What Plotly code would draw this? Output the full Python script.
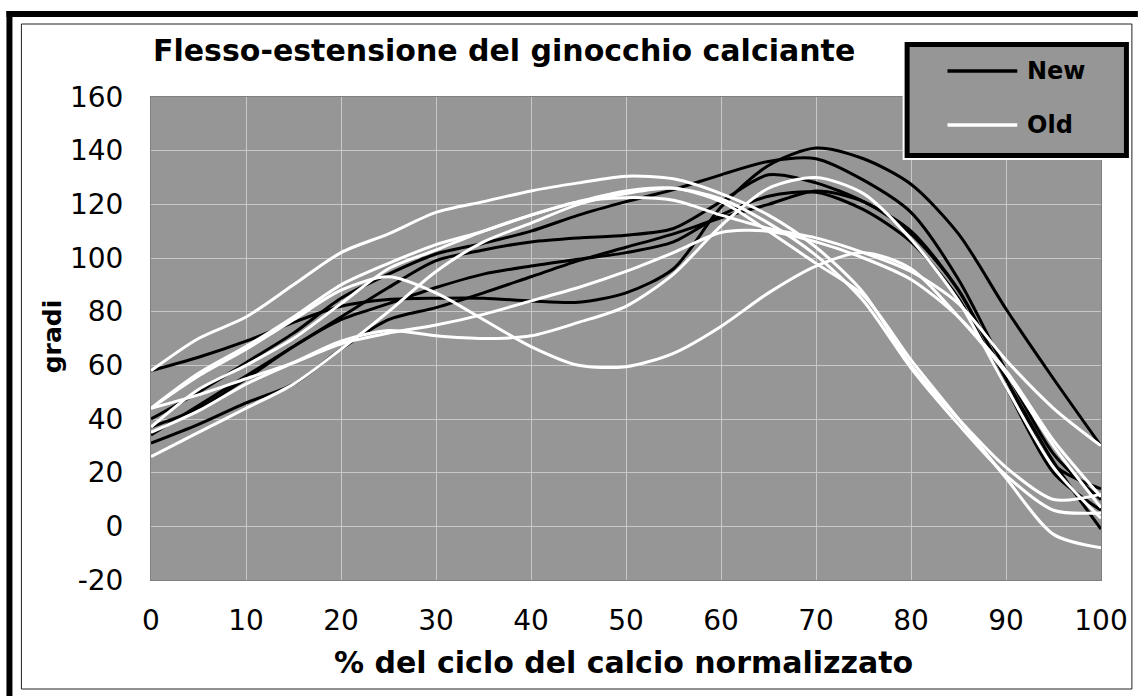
import plotly.graph_objects as go

# ---- data ----
x_pct = [0, 5, 10, 15, 20, 25, 30, 35, 40, 45, 50, 55, 60, 65, 70, 75, 80, 85, 90, 95, 100]

new_1 = [58, 63, 69, 76, 82, 84.5, 85, 85, 84, 83.5, 87, 96, 119, 134.5, 141, 137, 127.5, 109, 81, 55, 30]
new_2 = [40, 50, 61, 72, 85, 94, 101.5, 105.5, 110, 116, 121, 125.5, 131, 136, 137, 129, 117, 92, 58, 27, 10]
new_3 = [34, 45, 56, 67, 78, 89, 99, 103, 106, 107.5, 108.5, 111, 121, 131, 128, 121, 110, 88, 55, 23, 14]
new_4 = [37, 44, 55, 67, 77, 83, 89, 94, 97, 99.5, 102, 106, 116, 123, 124.5, 118, 106, 85, 52, 20, 6]
new_5 = [31, 38, 46, 53, 66, 77, 81.5, 87, 93, 99, 104, 109, 115, 120, 125, 121, 109, 88, 55, 24, -1]

old_1 = [58, 70, 78, 90, 102, 109, 117, 121, 125, 128, 130.5, 129.5, 124, 116, 104, 87, 60, 40, 22, 10, 12]
old_2 = [44, 57, 67, 78, 90, 98, 105, 110, 116, 121, 125, 126, 122, 113, 101, 84, 59, 38, 19, 6, 5]
old_3 = [44, 56, 66, 77, 88, 93, 87, 77, 67, 60, 59.5, 64.5, 74.5, 87, 97, 102, 96, 78, 57, 30, 7]
old_4 = [44, 49, 55, 61, 68, 72, 75, 79, 84, 89, 95, 102, 109.5, 110, 106, 100, 92, 78, 58, 32, 11]
old_5 = [26, 35, 44, 53, 66, 80, 95, 106, 113, 120, 124, 126, 121, 110, 98, 86, 62, 40, 18, -3, -8]
old_6 = [37, 51, 60, 70, 83, 96, 103, 110, 116, 121, 122.5, 121.5, 116, 111, 107.5, 102, 95, 83, 62, 44, 30]
old_7 = [35, 43, 53, 61, 69, 73, 71, 70, 71, 76, 82, 94, 112, 126, 130, 124, 107, 84, 52, 22, 3]

new_series = [new_1, new_2, new_3, new_4, new_5]
old_series = [old_1, old_2, old_3, old_4, old_5, old_6, old_7]

y_tick_vals = [-20, 0, 20, 40, 60, 80, 100, 120, 140, 160]
y_tick_text = ["-20", "0", "20", "40", "60", "80", "100", "120", "140", "160"]
x_tick_vals = [0, 10, 20, 30, 40, 50, 60, 70, 80, 90, 100]

title_text = "Flesso-estensione del ginocchio calciante"
x_title = "% del ciclo del calcio normalizzato"
y_title = "gradi"
legend_labels = ["New", "Old"]

# ---- figure ----
W, H = 1140, 696
L, R, T, B = 151, 36, 97, 116
PW, PH = W - L - R, H - T - B


def PX(px):
    return (px - L) / PW


def PY(py):
    return (H - B - py) / PH


fig = go.Figure()
for ys in new_series:
    fig.add_trace(go.Scatter(x=x_pct, y=ys, mode="lines",
                             line=dict(color="black", width=3, shape="spline", smoothing=0.8),
                             showlegend=False, hoverinfo="skip"))
for ys in old_series:
    fig.add_trace(go.Scatter(x=x_pct, y=ys, mode="lines",
                             line=dict(color="white", width=3, shape="spline", smoothing=0.8),
                             showlegend=False, hoverinfo="skip"))

font_fam = "DejaVu Sans"
axis_common = dict(showgrid=True, gridcolor="#c8c8c8", gridwidth=1,
                   showline=True, linecolor="#808080", linewidth=1, mirror=True,
                   zeroline=False, ticks="",
                   tickfont=dict(family=font_fam, size=28, color="black"))

fig.update_layout(
    width=W, height=H,
    margin=dict(l=L, r=R, t=T, b=B, pad=0),
    paper_bgcolor="white", plot_bgcolor="#969696",
    xaxis=dict(range=[0, 100], tickmode="array", tickvals=x_tick_vals,
               ticklabelstandoff=15, **axis_common),
    yaxis=dict(range=[-20, 160], tickmode="array", tickvals=y_tick_vals, ticktext=y_tick_text,
               ticklabelstandoff=21, **axis_common),
    showlegend=False,
)

shapes = []
# outer thick frame (top and left)
shapes.append(dict(type="rect", xref="paper", yref="paper", x0=PX(6), x1=PX(1141), y0=PY(17), y1=PY(11),
                   fillcolor="black", line=dict(width=0), layer="above"))
shapes.append(dict(type="rect", xref="paper", yref="paper", x0=PX(6), x1=PX(12), y0=PY(697), y1=PY(11),
                   fillcolor="black", line=dict(width=0), layer="above"))
# inner thin frame
shapes.append(dict(type="rect", xref="paper", yref="paper", x0=PX(21), x1=PX(1135), y0=PY(689), y1=PY(24),
                   line=dict(color="#222222", width=1), layer="above"))
# legend box
shapes.append(dict(type="rect", xref="paper", yref="paper", x0=PX(905), x1=PX(1134), y0=PY(160), y1=PY(40),
                   fillcolor="white", line=dict(width=0), layer="above"))
shapes.append(dict(type="rect", xref="paper", yref="paper", x0=PX(909.5), x1=PX(1129.5), y0=PY(155.5), y1=PY(44.5),
                   fillcolor="#969696", line=dict(color="black", width=5), layer="above"))
# legend samples
shapes.append(dict(type="line", xref="paper", yref="paper", x0=PX(950), x1=PX(1020), y0=PY(71), y1=PY(71),
                   line=dict(color="black", width=3.5), layer="above"))
shapes.append(dict(type="line", xref="paper", yref="paper", x0=PX(950), x1=PX(1020), y0=PY(125), y1=PY(125),
                   line=dict(color="white", width=3.5), layer="above"))
fig.update_layout(shapes=shapes)

ann = []
ann.append(dict(text="<b>" + title_text + "</b>", xref="paper", yref="paper", x=PX(505), y=PY(50),
                xanchor="center", yanchor="middle", showarrow=False,
                font=dict(family=font_fam, size=30, color="black")))
ann.append(dict(text="<b>" + x_title + "</b>", xref="paper", yref="paper", x=PX(625), y=PY(662),
                xanchor="center", yanchor="middle", showarrow=False,
                font=dict(family=font_fam, size=30, color="black")))
ann.append(dict(text="<b>" + y_title + "</b>", xref="paper", yref="paper", x=PX(52), y=PY(336),
                xanchor="center", yanchor="middle", showarrow=False, textangle=-90,
                font=dict(family=font_fam, size=25, color="black")))
for lab, py in zip(legend_labels, [71, 125]):
    ann.append(dict(text="<b>" + lab + "</b>", xref="paper", yref="paper", x=PX(1028), y=PY(py),
                    xanchor="left", yanchor="middle", showarrow=False,
                    font=dict(family=font_fam, size=24, color="black")))
fig.update_layout(annotations=ann)

fig.write_html("out.html", config={"displayModeBar": False},
               post_script="document.body.style.margin='0';")
